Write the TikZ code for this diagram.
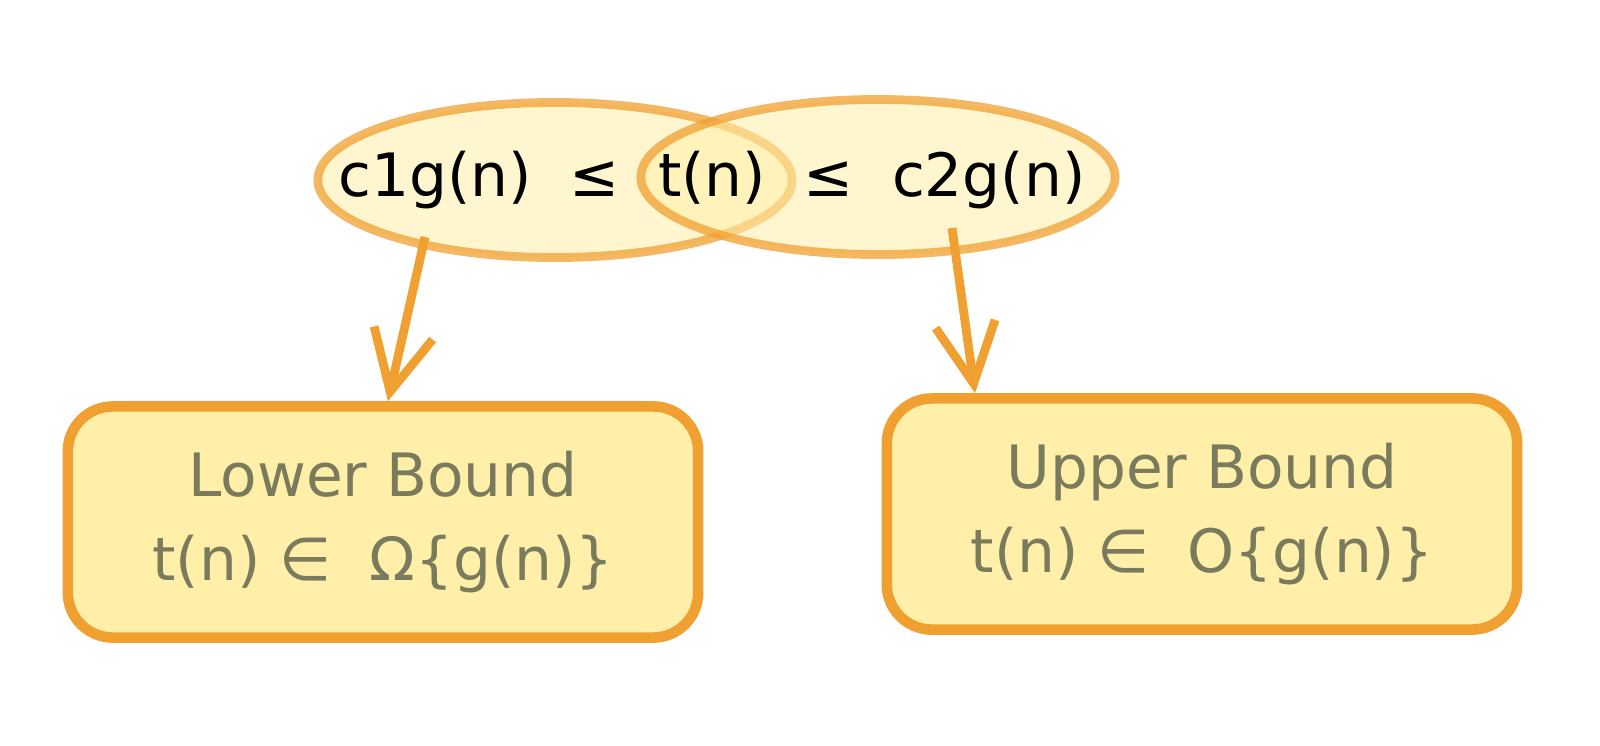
\documentclass[tikz,border=0pt]{standalone}
\usepackage{fontspec}
\setmainfont{DejaVu Sans}
\usetikzlibrary{positioning,shapes.geometric,arrows.meta,calc}
\definecolor{boundorange}{HTML}{F0A030}
\definecolor{boundfill}{HTML}{FFEFA8}
\definecolor{boundtext}{HTML}{7A7A5C}

\begin{document}
\begin{tikzpicture}[
    x=0.01cm, y=-0.01cm,
    set_oval/.style={ellipse, draw=boundorange, line width=2.5pt, draw opacity=0.75, fill=boundfill, fill opacity=0.55, minimum width=4.74cm, minimum height=1.55cm},
    bound_block/.style={rectangle, draw=boundorange, line width=3pt, fill=boundfill, rounded corners=0.45cm, minimum width=6.3cm, minimum height=2.31cm, align=center, text=boundtext, font=\fontsize{17}{24}\selectfont},
    arrow/.style={-{Straight Barb[length=6mm, width=6mm]}, line width=2.5pt, draw=boundorange}
]
\useasboundingbox (0,0) rectangle (1600,745);

% Overlapping sets
\node[set_oval] (lowset) at (555,180) {};
\node[set_oval] (highset) at (878,177) {};
\node[font=\fontsize{17}{22}\selectfont] (relation) at (712,180) {c1g(n)\ \ ≤\ \ t(n)\ \ ≤\ \ c2g(n)};

% Bound boxes
\node[bound_block] (lower) at (383,522) {Lower Bound\\t(n) ∈\ \ Ω\{g(n)\}};
\node[bound_block] (upper) at (1202,514) {Upper Bound\\t(n) ∈\ \ O\{g(n)\}};

% Arrow ends
\coordinate (lowstart) at (425,237);
\coordinate (highstart) at (952,228);

\draw[arrow] (lowstart) -- (lower.north -| 388,0);
\draw[arrow] (highstart) -- (upper.north -| 975,0);

\end{tikzpicture}
\end{document}
